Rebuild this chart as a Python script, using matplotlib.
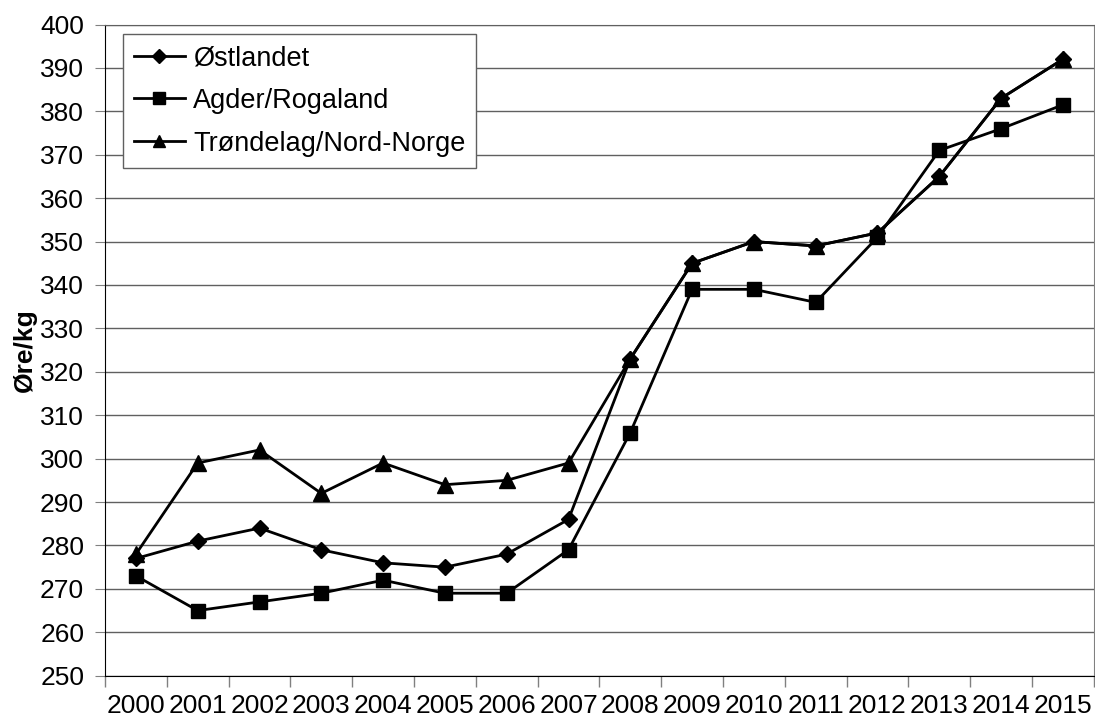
import matplotlib

matplotlib.use("Agg")

import matplotlib.pyplot as plt
import numpy as np

years = [str(y) for y in range(2000, 2016)]
ostlandet = [277, 281, 284, 279, 276, 275, 278, 286, 323, 345, 350, 349, 352, 365, 383, 392]
agder_rogaland = [273, 265, 267, 269, 272, 269, 269, 279, 306, 339, 339, 336, 351, 371, 376, 381.5]
trondelag = [278, 299, 302, 292, 299, 294, 295, 299, 323, 345, 350, 349, 352, 365, 383, 392]

plt.rcParams["font.family"] = ["Liberation Sans", "DejaVu Sans"]

fig = plt.figure(figsize=(10.95, 7.17), dpi=100)
ax = fig.add_axes([0.0959, 0.0576, 0.903, 0.9082])

x = np.arange(len(years))
ax.plot(x, ostlandet, color="black", lw=2, marker="D", ms=8.5, label="Østlandet")
ax.plot(x, agder_rogaland, color="black", lw=2, marker="s", ms=10, label="Agder/Rogaland")
ax.plot(x, trondelag, color="black", lw=2, marker="^", ms=11, label="Trøndelag/Nord-Norge")

ax.set_xlim(-0.5, len(years) - 0.5)
ax.set_ylim(250, 400)
ax.set_yticks(np.arange(250, 401, 10))
ax.set_xticks(x)
ax.set_xticklabels(years)
ax.set_xticks(np.arange(-0.5, len(years), 1), minor=True)
ax.tick_params(axis="x", which="major", length=0, labelsize=19, pad=13)
ax.tick_params(axis="x", which="minor", length=8, color="#808080", width=1)
ax.tick_params(axis="y", length=7, color="#808080", labelsize=19, pad=8)

ax.grid(axis="y", color="#606060", lw=1)
ax.set_axisbelow(True)
ax.spines["left"].set_color("black")
ax.spines["bottom"].set_color("black")
ax.spines["top"].set_color("#606060")
ax.spines["right"].set_color("#808080")

ax.set_ylabel("Øre/kg", fontsize=19, fontweight="bold", labelpad=2)

leg = ax.legend(loc="upper left", bbox_to_anchor=(0.018, 0.985), borderaxespad=0,
                fontsize=19.5, fancybox=False, edgecolor="#606060", framealpha=1,
                handlelength=1.9, borderpad=0.4, labelspacing=0.62, handletextpad=0.3,
                markerscale=0.85)
leg.get_frame().set_linewidth(1)

fig.savefig("out.png", dpi=100)
